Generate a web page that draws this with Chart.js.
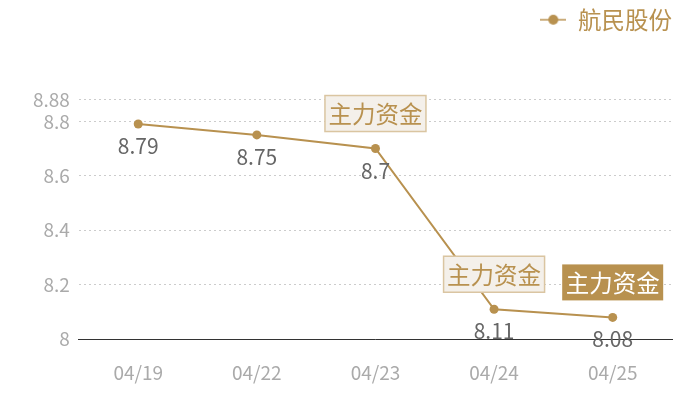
<!DOCTYPE html>
<html lang="zh-CN">
<head>
<meta charset="UTF-8">
<title>航民股份</title>
<script src="https://cdn.jsdelivr.net/npm/chart.js"></script>
<style>
  html, body { margin: 0; padding: 0; background: #fff; }
  #wrap { width: 700px; height: 400px; }
</style>
</head>
<body>
<div id="wrap"><canvas id="chart"></canvas></div>
<script>
// 数据
const dates = ['04/19', '04/22', '04/23', '04/24', '04/25'];
const prices = [8.79, 8.75, 8.7, 8.11, 8.08];
const yTicks = [8, 8.2, 8.4, 8.6, 8.8, 8.88];
// 主力资金标记: 哪个日期, 是否实心
const flagDates = ['04/23', '04/24', '04/25'];
const flagFilled = [false, false, true];
const flagText = '主力资金';

const gold = '#b8914f';
const font = '"Noto Sans CJK SC", "Noto Sans", sans-serif';

// 图例图标: 一条线加一个圆点
const legendIcon = document.createElement('canvas');
legendIcon.width = 26;
legendIcon.height = 12;
(function () {
  const c = legendIcon.getContext('2d');
  c.strokeStyle = gold;
  c.lineWidth = 1.5;
  c.beginPath();
  c.moveTo(0, 6);
  c.lineTo(26, 6);
  c.stroke();
  c.fillStyle = gold;
  c.beginPath();
  c.arc(13, 6, 5, 0, Math.PI * 2);
  c.fill();
})();

// 图例下面留出空白
const legendGap = {
  id: 'legendGap',
  beforeInit(chart) {
    const fit = chart.legend.fit;
    chart.legend.fit = function () {
      fit.call(this);
      this.height += 58;
    };
  }
};

// 数值标签 + 主力资金标记
const labelPlugin = {
  id: 'labels',
  afterDatasetsDraw(chart) {
    const ctx = chart.ctx;
    const meta = chart.getDatasetMeta(0);
    ctx.save();
    ctx.font = '21px ' + font;
    ctx.fillStyle = '#666';
    ctx.textAlign = 'center';
    ctx.textBaseline = 'middle';
    meta.data.forEach((pt, i) => {
      ctx.fillText(String(prices[i]), pt.x, pt.y + 22);
    });

    ctx.font = '23.5px ' + font;
    flagDates.forEach((d, k) => {
      const i = dates.indexOf(d);
      const pt = meta.data[i];
      const w = 101, h = 36;
      const x = pt.x - w / 2;
      const y = pt.y - 17 - h;
      if (flagFilled[k]) {
        ctx.fillStyle = gold;
        ctx.fillRect(x, y, w, h);
        ctx.fillStyle = '#fff';
      } else {
        ctx.fillStyle = '#f4f0ea';
        ctx.fillRect(x, y, w, h);
        ctx.strokeStyle = '#dac5a1';
        ctx.lineWidth = 1.5;
        ctx.strokeRect(x, y, w, h);
        ctx.fillStyle = gold;
      }
      ctx.fillText(flagText, pt.x, y + h / 2 + 1);
    });
    ctx.restore();
  }
};

new Chart(document.getElementById('chart'), {
  type: 'line',
  data: {
    labels: dates,
    datasets: [{
      label: '航民股份',
      data: prices,
      borderColor: gold,
      backgroundColor: gold,
      borderWidth: 2,
      pointRadius: 4.5,
      pointHoverRadius: 4.5,
      pointBackgroundColor: gold,
      pointBorderWidth: 0,
      tension: 0
    }]
  },
  options: {
    responsive: true,
    maintainAspectRatio: false,
    animation: false,
    layout: { padding: { top: 8, right: 28, left: 24, bottom: -6 } },
    plugins: {
      tooltip: { enabled: false },
      legend: {
        display: true,
        position: 'top',
        align: 'end',
        labels: {
          usePointStyle: true,
          pointStyle: legendIcon,
          pointStyleWidth: 26,
          color: gold,
          font: { size: 23.5, family: font },
          padding: 0
        }
      }
    },
    scales: {
      x: {
        offset: true,
        grid: { display: false, drawTicks: false },
        border: { display: true, color: '#333', width: 1 },
        ticks: { color: '#aaa', font: { size: 19, family: font }, padding: 22 }
      },
      y: {
        min: 8,
        max: 8.88,
        afterBuildTicks(axis) {
          axis.ticks = yTicks.map(v => ({ value: v }));
        },
        grid: { color: '#ccc', drawTicks: false, tickLength: 0 },
        border: { display: false, dash: [2, 3] },
        ticks: {
          color: '#aaa',
          font: { size: 19, family: font },
          padding: 9,
          callback: v => String(v)
        }
      }
    }
  },
  plugins: [legendGap, labelPlugin]
});
</script>
</body>
</html>
